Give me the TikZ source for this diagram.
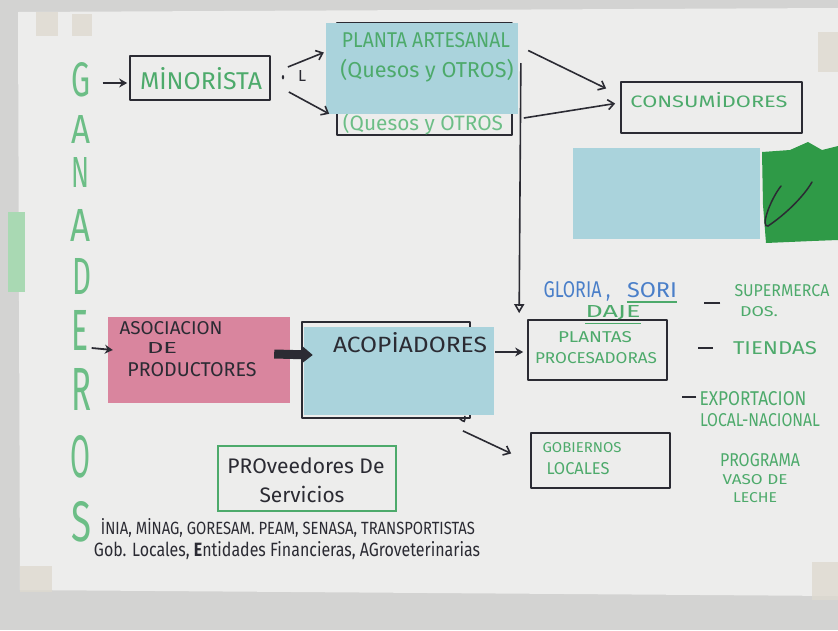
\documentclass[tikz,border=0pt]{standalone}
\usepackage{fontspec}
\setmainfont{Fira Sans}
\usetikzlibrary{arrows.meta}
\definecolor{paper}{HTML}{EDEDEC}
\definecolor{edge}{HTML}{D3D3D2}
\definecolor{mk}{HTML}{4DAA6B}
\definecolor{mkl}{HTML}{6CBE86}
\definecolor{ink}{HTML}{2B2B33}
\definecolor{sticky}{HTML}{AAD3DC}
\definecolor{pinkn}{HTML}{D9859E}
\definecolor{blueink}{HTML}{4A7FC9}
\definecolor{scrib}{HTML}{2F9A47}
\definecolor{tab}{HTML}{A9D9B3}
\definecolor{tape}{HTML}{DEDAD0}
\newcommand{\fitt}[3]{\resizebox{#1pt}{#2pt}{#3}}
\newcommand{\fitw}[2]{\resizebox{#1pt}{!}{#2}}
\begin{document}
\begin{tikzpicture}[x=1pt,y=-1pt,
  outline/.style={draw=ink,line width=1.7pt,line join=round,inner sep=0pt},
  gbox/.style={draw=mk,line width=1.7pt,inner sep=0pt},
  note/.style={inner sep=0pt,draw=none},
  arr/.style={draw=ink,line width=1.6pt,-{Straight Barb[length=6pt,width=10pt]}},
  sarr/.style={draw=ink,line width=1.8pt,-{Stealth[length=8pt,width=9pt]}},
  gtxt/.style={inner sep=0pt,text=mk},
  ktxt/.style={inner sep=0pt,text=ink},
  letter/.style={inner sep=0pt,text=mkl},
  dashmark/.style={draw=ink,line width=2.2pt}]
\useasboundingbox (0,0) rectangle (838,630);
% photo background
\fill[edge] (0,0) rectangle (838,630);
\fill[paper] (18,12) -- (838,8) -- (838,596) -- (20,590) -- cycle;
\fill[tab] (8,212) rectangle (25,292);
\fill[tape,opacity=.8] (36,12) rectangle (58,36);
\fill[tape,opacity=.8] (72,14) rectangle (92,36);
\fill[tape,opacity=.8] (20,566) rectangle (52,592);
\fill[tape,opacity=.8] (812,562) rectangle (838,600);
\fill[tape,opacity=.8] (818,32) rectangle (838,72);

% GANADEROS
\node[letter] (lG) at (81,80) {\fitt{19}{34}{G}};
\node[letter] (lA1) at (81,129) {\fitt{19}{28}{A}};
\node[letter] (lN) at (81,172) {\fitt{18}{30}{N}};
\node[letter] (lA2) at (81,225) {\fitt{20}{32}{A}};
\node[letter] (lD) at (82,276) {\fitt{19}{36}{D}};
\node[letter] (lE) at (80,330) {\fitt{17}{40}{E}};
\node[letter] (lR) at (82,389) {\fitt{20}{42}{R}};
\node[letter] (lO) at (80,457) {\fitt{20}{42}{O}};
\node[letter] (lS) at (82,522) {\fitt{20}{40}{S}};

% MINORISTA
\node[outline,minimum width=140pt,minimum height=44pt] (min) at (200,78) {};
\node[gtxt] (tmin) at (201,79) {\fitt{122}{22}{MİNORİSTA}};
\node[ktxt] (dot) at (283,78) {\fitt{4}{4}{.}};
\node[ktxt] (ell) at (302,76) {\fitt{8}{11}{L}};

% Planta artesanal
\node[outline,minimum width=175pt,minimum height=112pt] (qbox) at (424.5,79) {};
\node[text=mkl,inner sep=0pt] (tq2) at (423,124) {\fitw{160}{(Quesos y OTROS}};
\node[note,fill=sticky,minimum width=192pt,minimum height=91pt] (st1) at (422,68.5) {};
\node[gtxt] (tpa) at (426,40) {\fitt{168}{15}{PLANTA ARTESANAL}};
\node[gtxt] (tq1) at (427,71) {\fitw{173}{(Quesos y OTROS)}};

% Consumidores
\node[outline,minimum width=181pt,minimum height=51pt] (cons) at (711.5,107.5) {};
\node[gtxt] (tcons) at (709,100) {\fitt{157}{15}{CONSUMİDORES}};

% blue sticky and green scribble
\node[note,fill=sticky,minimum width=187pt,minimum height=91pt] (st2) at (666.5,193.5) {};
\fill[scrib] (762,152) -- (790,150) -- (808,142) -- (822,150) -- (838,146) -- (838,240) -- (812,241) -- (766,243) -- (763,205) -- cycle;
\draw[ink,line width=1.5pt,line cap=round] (781,186) .. controls (770,200) and (760,228) .. (768,226) .. controls (786,214) and (804,196) .. (812,182);

% connectors top
\draw[sarr] ([xshift=12pt,yshift=-3pt]lG.east) -- ([xshift=-2pt,yshift=-5pt]min.west);
\draw[arr] ([xshift=17pt,yshift=11pt]min.east) -- ([xshift=-2pt,yshift=16pt]st1.west);
\draw[arr] ([xshift=18pt,yshift=-14pt]min.east) -- ([xshift=-7pt,yshift=22pt]qbox.south west);
\draw[arr] ([xshift=10pt,yshift=18pt]st1.east) -- ([xshift=-14pt,yshift=19pt]cons.west);
\draw[arr] ([xshift=11pt,yshift=-39pt]qbox.east) -- ([xshift=-5pt,yshift=4pt]cons.west);

% Plantas procesadoras
\node[outline,minimum width=139pt,minimum height=60pt] (plan) at (597.5,350) {};
\node[gtxt] (tpl1) at (595,337) {\fitt{74}{11}{PLANTAS}};
\node[gtxt] (tpl2) at (596,358) {\fitt{122}{11}{PROCESADORAS}};
\draw[draw=ink,line width=1.6pt,-{Triangle[open,length=9pt,width=10pt]}] ([xshift=8pt,yshift=16pt]qbox.east) -- ([xshift=-8pt,yshift=6pt]plan.north west);

\node[inner sep=0pt,text=blueink] (glo) at (577,291) {\fitt{67}{16}{GLORIA ,}};
\node[inner sep=0pt,text=blueink] (sori) at (652,290) {\fitt{50}{15}{SORI}};
\draw[mk,line width=1.5pt] ([yshift=-4pt]sori.south west) -- ([yshift=-4pt]sori.south east);
\node[gtxt] (daje) at (613,313) {\fitt{55}{12}{DAJE}};
\draw[mk,line width=1.5pt] ([yshift=-3pt]daje.south west) -- ([yshift=-3pt]daje.south east);

% right column
\node[gtxt] (sup1) at (782,291) {\fitt{95}{12}{SUPERMERCA}};
\node[gtxt] (sup2) at (759,312) {\fitt{38}{10}{DOS.}};
\draw[dashmark] ([xshift=-14pt,yshift=-12pt]sup1.west) -- ([xshift=-30pt,yshift=-12pt]sup1.west);
\node[gtxt] (tien) at (775,348) {\fitt{84}{13}{TIENDAS}};
\draw[dashmark] ([xshift=-20pt]tien.west) -- ([xshift=-35pt]tien.west);
\node[gtxt] (exp1) at (753,399) {\fitt{107}{14}{EXPORTACION}};
\node[gtxt] (exp2) at (760,420) {\fitt{120}{13}{LOCAL-NACIONAL}};
\draw[dashmark] ([xshift=-3pt,yshift=2pt]exp1.west) -- ([xshift=-17pt,yshift=2pt]exp1.west);
\node[gtxt] (prg1) at (760,460) {\fitt{80}{13}{PROGRAMA}};
\node[gtxt] (prg2) at (755,480) {\fitt{65}{10}{VASO DE}};
\node[gtxt] (prg3) at (755,498) {\fitt{44}{10}{LECHE}};

% Asociacion
\node[note,fill=pinkn,minimum width=182pt,minimum height=86pt] (pink) at (199,360) {};
\node[ktxt] (as1) at (171,328) {\fitt{103}{13}{ASOCIACION}};
\node[ktxt] (as2) at (162,348) {\fitt{30}{11}{DE}};
\node[ktxt] (as3) at (192,370) {\fitt{129}{14}{PRODUCTORES}};
\draw[sarr] ([xshift=3pt,yshift=-18pt]lE.east) -- ([xshift=5pt,yshift=10pt]pink.west);

% Acopiadores
\node[outline,minimum width=168pt,minimum height=96pt] (acb) at (386,370) {};
\node[note,fill=sticky,minimum width=190pt,minimum height=88pt] (acst) at (399,371) {};
\node[ktxt] (tac) at (410,343) {\fitt{154}{20}{ACOPİADORES}};
\draw[ink,line width=1.6pt] ([xshift=-12pt,yshift=1pt]acb.south east) .. controls ([xshift=-6pt,yshift=-4pt]acb.south east) .. ([xshift=-6pt,yshift=3pt]acb.south east);
\draw[ink,line width=9pt,-{Triangle[length=11pt,width=17pt]}] ([xshift=-16pt,yshift=6pt]pink.east) -- ([xshift=9pt,yshift=16pt]acst.west);
\draw[sarr] ([xshift=1pt,yshift=19pt]acst.east) -- ([xshift=-4pt,yshift=-2pt]plan.west);

% Gobiernos locales
\node[outline,minimum width=139pt,minimum height=55pt] (gob) at (600.5,460.5) {};
\node[gtxt] (gb1) at (582,448) {\fitt{79}{10}{GOBIERNOS}};
\node[gtxt] (gb2) at (578,469) {\fitt{63}{12}{LOCALES}};
\draw[arr] ([xshift=-8pt,yshift=-12pt]acb.south east) -- ([xshift=-19pt,yshift=7pt]gob.west);

% Proveedores
\node[gbox,minimum width=178pt,minimum height=65pt] (prov) at (307,478.5) {};
\node[ktxt] (pv1) at (306,466) {\fitw{157}{PROveedores De}};
\node[ktxt] (pv2) at (302,494) {\fitw{85}{Servicios}};

% bottom lines
\node[ktxt] (bl1) at (288,528) {\fitt{374}{16}{İNIA, MİNAG, GORESAM. PEAM, SENASA, TRANSPORTISTAS}};
\node[ktxt] (bl2) at (287,551) {\fitt{386}{15}{Gob. Locales, {\bfseries E}ntidades Financieras, AGroveterinarias}};
\end{tikzpicture}
\end{document}
